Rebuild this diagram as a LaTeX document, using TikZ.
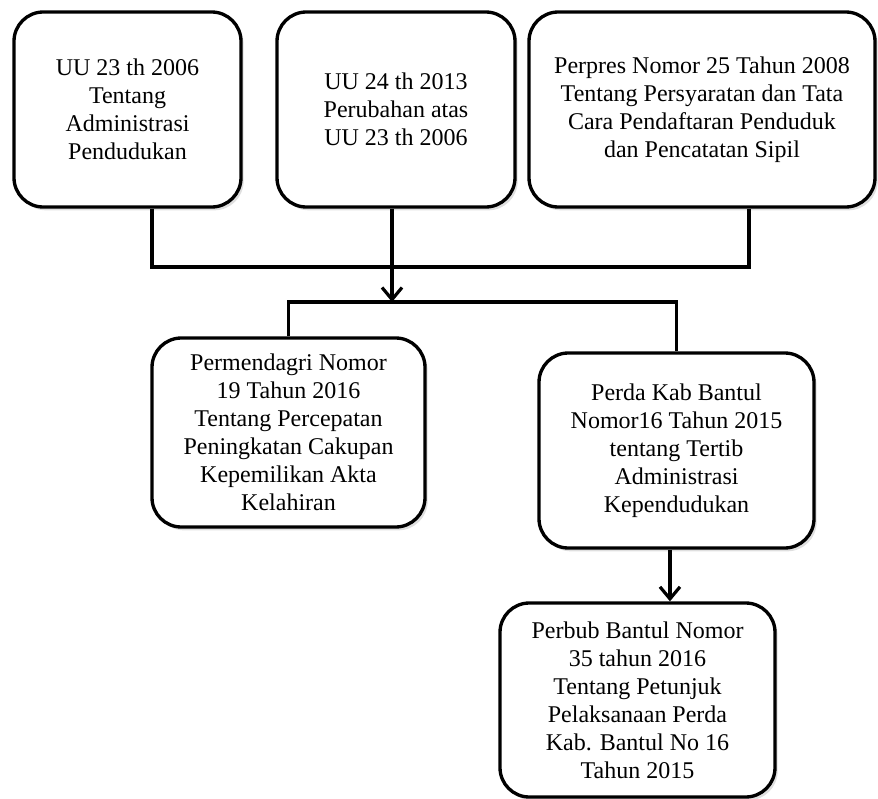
\documentclass[tikz,border=0pt]{standalone}
\usepackage{fontspec}
\setmainfont{Liberation Serif}
\newfontfamily\lawfont{Liberation Serif}
\usetikzlibrary{arrows.meta,shadows}
\tikzset{
  lawbox/.style={draw,line width=2.5pt,rounded corners=22pt,fill=white,align=center,
    inner sep=0pt,font=\lawfont\fontsize{18}{21}\selectfont,
    drop shadow={shadow xshift=2pt,shadow yshift=-2.5pt,opacity=.25}},
  link/.style={line width=2.6pt},
  flow/.style={link,-{Straight Barb[length=9pt,width=15pt,line width=2.4pt]}}
}

\begin{document}
\begin{tikzpicture}[x=0.75pt,y=-0.75pt]
  \useasboundingbox (0,0) rectangle (878,799);
  % top row
  \node[lawbox,minimum width=170.25pt,minimum height=146.25pt] (uu23) at (127.5,109.5)
    {UU 23 th 2006\\Tentang\\Administrasi\\Pendudukan};
  \node[lawbox,minimum width=178.5pt,minimum height=146.25pt] (uu24) at (396,109.5)
    {UU 24 th 2013\\Perubahan atas\\UU 23 th 2006};
  \node[lawbox,minimum width=259.5pt,minimum height=146.25pt] (perpres) at (702,109.5)
    {Perpres Nomor 25 Tahun 2008\\Tentang Persyaratan dan Tata\\Cara Pendaftaran Penduduk\\dan Pencatatan Sipil};
  % middle row
  \node[lawbox,minimum width=204.75pt,minimum height=141.75pt] (permen) at (288.5,432.5)
    {Permendagri Nomor\\19 Tahun 2016\\Tentang Percepatan\\Peningkatan Cakupan\\Kepemilikan Akta\\Kelahiran};
  \node[lawbox,minimum width=206.25pt,minimum height=146.25pt] (perda) at (676.5,450.5)
    {Perda Kab Bantul\\Nomor16 Tahun 2015\\tentang Tertib\\Administrasi\\Kependudukan};
  % bottom
  \node[lawbox,minimum width=206.25pt,minimum height=145.5pt] (perbub) at (637.5,700)
    {Perbub Bantul Nomor\\35 tahun 2016\\Tentang Petunjuk\\Pelaksanaan Perda\\Kab. Bantul No 16\\Tahun 2015};

  \coordinate (join) at (392,267);
  \coordinate (split) at (392,302);
  \draw[link] ([xshift=18.4pt]uu23.south) |- (join) -| ([xshift=35.25pt]perpres.south);
  \draw[flow] ([xshift=-3pt]uu24.south) -- (split);
  \draw[link] (permen.north) |- (split) -| (perda.north);
  \draw[flow] ([xshift=-4.9pt]perda.south) coordinate (down) -- (down |- perbub.north);
\end{tikzpicture}
\end{document}
